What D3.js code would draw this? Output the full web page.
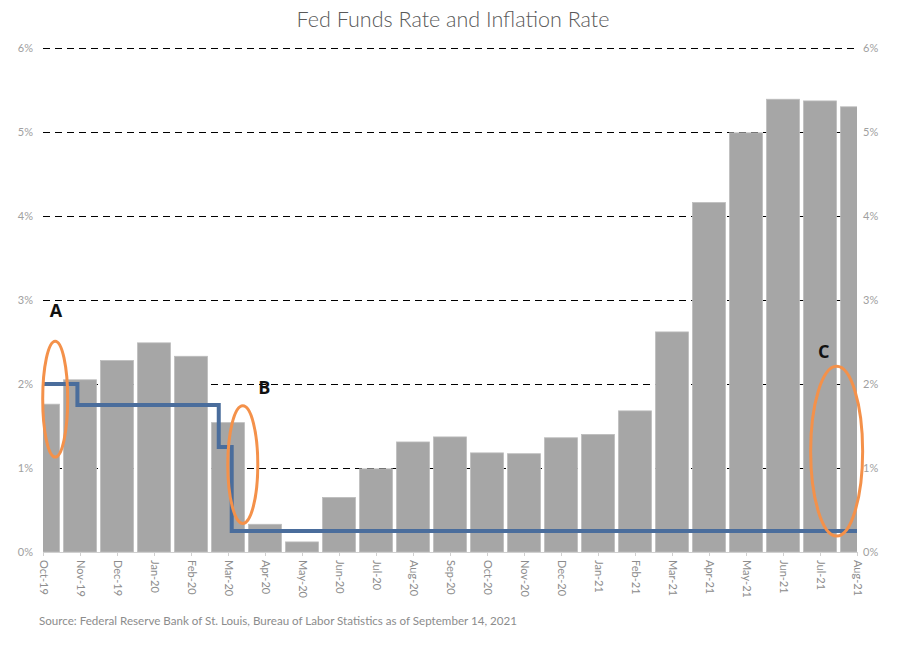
<!DOCTYPE html>
<html>
<head>
<meta charset="utf-8">
<script src="https://cdn.jsdelivr.net/npm/d3@7"></script>
<style>
  body { margin: 0; background: #fff; }
  svg { font-family: Lato, "Open Sans", sans-serif; }
</style>
</head>
<body>
<div id="chart"></div>
<script>
// months on the category axis
const months = ['Oct-19','Nov-19','Dec-19','Jan-20','Feb-20','Mar-20','Apr-20','May-20','Jun-20','Jul-20',
  'Aug-20','Sep-20','Oct-20','Nov-20','Dec-20','Jan-21','Feb-21','Mar-21','Apr-21','May-21','Jun-21','Jul-21','Aug-21']

// inflation rate (CPI yoy, %)
const inflation = [1.76, 2.05, 2.28, 2.49, 2.33, 1.54, 0.33, 0.12, 0.65, 0.99,
  1.31, 1.37, 1.18, 1.17, 1.36, 1.40, 1.68, 2.62, 4.16, 4.99, 5.39, 5.37, 5.30]

// fed funds upper bound, step points [month index, rate]
const fedFunds = [[0, 2.0], [0.93, 1.75], [4.75, 1.25], [5.1, 0.25], [22, 0.25]]

const yTicks = [0, 1, 2, 3, 4, 5, 6]

// annotations: [label, ellipse cx idx, cy value, rx px, ry value, label idx, label value]
const notes = [
  ['A', 0.33, 1.82, 12.5, 0.69, 0.35, 2.8],
  ['B', 5.4, 1.04, 15, 0.7, 5.98, 1.88],
  ['C', 21.45, 1.2, 26, 1.01, 21.1, 2.31]
]

const width = 906, height = 658
const mLeft = 43, mRight = 857, mTop = 48, mBottom = 552

const svg = d3.select('#chart').append('svg')
  .attr('width', width)
  .attr('height', height)

const x = d3.scaleLinear().domain([0, months.length - 1]).range([mLeft, mRight])
const y = d3.scaleLinear().domain([0, 6]).range([mBottom, mTop])
const step = x(1) - x(0)
const barW = step - 4

svg.append('text')
  .attr('x', 453).attr('y', 27)
  .attr('text-anchor', 'middle')
  .attr('font-size', 21.5)
  .attr('font-weight', 300)
  .attr('fill', '#595959')
  .text('Fed Funds Rate and Inflation Rate')

// dashed gridlines
svg.append('g')
  .selectAll('line')
  .data(yTicks.filter(d => d > 0))
  .enter()
  .append('line')
  .attr('x1', mLeft).attr('x2', 854)
  .attr('y1', d => Math.round(y(d)) + 0.5).attr('y2', d => Math.round(y(d)) + 0.5)
  .attr('stroke', '#000')
  .attr('stroke-width', 1.2)
  .attr('stroke-dasharray', '7,5')

// y labels both sides
const yl = svg.append('g').attr('font-size', 11).attr('fill', '#a0a0a0')
yl.selectAll('.l').data(yTicks).enter().append('text')
  .attr('x', 33).attr('y', d => y(d) + 4)
  .attr('text-anchor', 'end')
  .text(d => d + '%')
yl.selectAll('.r').data(yTicks).enter().append('text')
  .attr('x', 863).attr('y', d => y(d) + 4)
  .text(d => d + '%')

svg.append('clipPath').attr('id', 'plot')
  .append('rect')
  .attr('x', mLeft).attr('y', 0)
  .attr('width', mRight - mLeft).attr('height', mBottom)

// bars
svg.append('g')
  .attr('clip-path', 'url(#plot)')
  .selectAll('rect')
  .data(inflation)
  .enter()
  .append('rect')
  .attr('x', (d, i) => x(i) - barW / 2)
  .attr('y', d => y(d))
  .attr('width', barW)
  .attr('height', d => mBottom - y(d))
  .attr('fill', '#a6a6a6')
  .attr('stroke', '#bdbdbd')
  .attr('stroke-width', 0.8)

// x axis
const xAxis = d3.axisBottom(x)
  .tickValues(d3.range(months.length))
  .tickSize(4)
  .tickFormat(i => months[i])
const gx = svg.append('g')
  .attr('transform', `translate(0,${mBottom})`)
  .call(xAxis)
gx.select('.domain').attr('stroke', '#d0d0d0')
gx.selectAll('.tick line').attr('stroke', '#d0d0d0')
gx.selectAll('.tick text')
  .attr('fill', '#8c8c8c')
  .attr('font-size', 11)
  .attr('font-family', 'Lato, "Open Sans", sans-serif')
  .attr('transform', 'rotate(90)')
  .attr('x', 8).attr('y', 0)
  .attr('dy', '0.35em')
  .attr('text-anchor', 'start')

// fed funds step line
const line = d3.line()
  .x(d => x(d[0]))
  .y(d => y(d[1]))
  .curve(d3.curveStepAfter)
svg.append('path')
  .datum(fedFunds)
  .attr('d', line)
  .attr('fill', 'none')
  .attr('stroke', '#4a6d9c')
  .attr('stroke-width', 4)

// annotations
const ng = svg.append('g')
ng.selectAll('ellipse').data(notes).enter().append('ellipse')
  .attr('cx', d => x(d[1]))
  .attr('cy', d => y(d[2]))
  .attr('rx', d => d[3])
  .attr('ry', d => y(0) - y(d[4]))
  .attr('fill', 'none')
  .attr('stroke', '#f4914a')
  .attr('stroke-width', 3)
ng.selectAll('text').data(notes).enter().append('text')
  .attr('x', d => x(d[5]))
  .attr('y', d => y(d[6]))
  .attr('text-anchor', 'middle')
  .attr('font-family', '"Open Sans", "Liberation Sans", sans-serif')
  .attr('font-weight', 'bold')
  .attr('font-size', 18)
  .attr('fill', '#111')
  .text(d => d[0])

svg.append('text')
  .attr('x', 39).attr('y', 625)
  .attr('font-size', 11.6)
  .attr('fill', '#8c8c8c')
  .text('Source: Federal Reserve Bank of St. Louis, Bureau of Labor Statistics as of September 14, 2021')
</script>
</body>
</html>
